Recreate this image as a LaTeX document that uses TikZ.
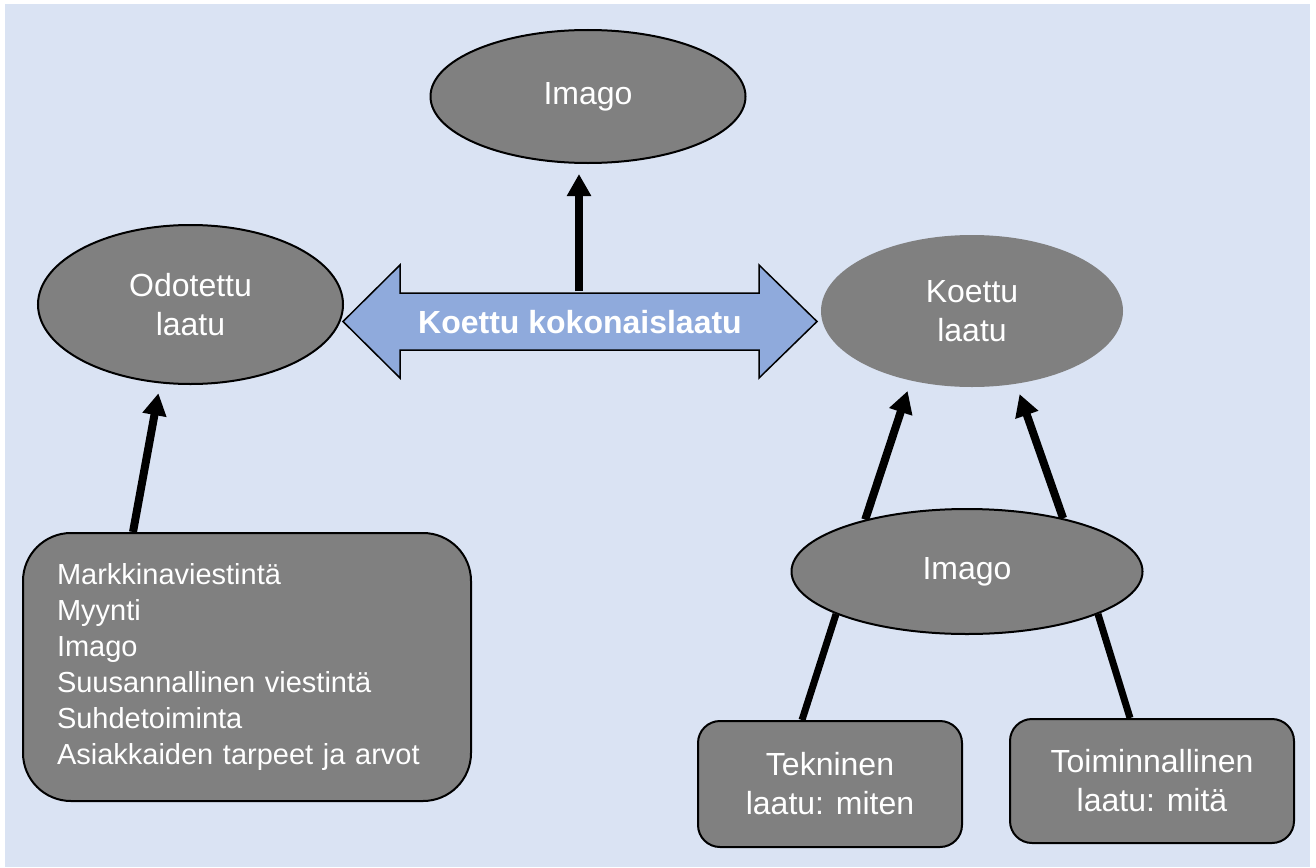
\documentclass[tikz,border=0pt]{standalone}
\usepackage{fontspec}
\setmainfont{Liberation Sans}
\usetikzlibrary{arrows.meta,shapes.geometric,backgrounds}
\definecolor{pagebg}{HTML}{DAE3F3}
\definecolor{shade}{HTML}{808080}
\definecolor{band}{HTML}{8FAADC}

\begin{document}
\begin{tikzpicture}[x=1pt,y=-1pt,
  oval/.style={ellipse,fill=shade,draw=black,line width=2pt,inner sep=0pt,
    text=white,align=center,font=\fontsize{32}{39}\selectfont},
  card/.style={rectangle,rounded corners=22pt,fill=shade,draw=black,line width=2pt,
    inner sep=0pt,text=white,align=center,font=\fontsize{32}{39}\selectfont},
  link/.style={line width=7pt},
  push/.style={line width=8pt,-{Triangle[width=23pt,length=22pt]},shorten >=10pt},
]
\useasboundingbox (0,0) rectangle (1316,867);
\begin{scope}[on background layer]
  \fill[pagebg] (5,4) rectangle (1310,867);
\end{scope}

% central double arrow
\draw[fill=band,line width=1.5pt,line join=miter]
  (343,321.5) -- (400,265) -- (400,293) -- (759,293) -- (759,265) -- (817,321.5)
  -- (759,378) -- (759,350) -- (400,350) -- (400,378) -- cycle;
\node[text=white,font=\bfseries\fontsize{32}{38}\selectfont,inner sep=0pt]
  (kokonais) at (580,322) {Koettu kokonaislaatu};
\coordinate (shafttop) at (579,291);

% ovals
\node[oval,minimum width=315pt,minimum height=133pt] (imagoTop) at (588,96.5) {Imago};
\node[oval,minimum width=305pt,minimum height=159pt] (odotettu) at (190.5,304.5) {Odotettu\\laatu};
\node[oval,draw=none,minimum width=302pt,minimum height=152pt] (koettu) at (972,311) {Koettu\\laatu};
\node[oval,minimum width=351pt,minimum height=125pt] (imagoLow) at (967,571.5) {Imago};

% boxes
\node[card,rounded corners=48pt,minimum width=448pt,minimum height=268pt,
  text width=380pt,align=left,font=\fontsize{29}{36}\selectfont] (list) at (247,667)
  {Markkinaviestintä\\Myynti\\Imago\\Suusannallinen viestintä\\Suhdetoiminta\\Asiakkaiden tarpeet ja arvot};
\node[card,minimum width=264pt,minimum height=126pt] (tek) at (830,784) {Tekninen\\laatu: miten};
\node[card,minimum width=284pt,minimum height=124pt] (toim) at (1152,781) {Toiminnallinen\\laatu: mitä};

% connectors
\begin{scope}[on background layer]
  \draw[push] (shafttop) -- ([xshift=-9pt]imagoTop.south);
  \draw[push] ([xshift=-114pt]list.north) -- (odotettu.249);
  \draw[push] (imagoLow.153) -- (koettu.229);
  \draw[push] (imagoLow.29) -- (koettu.-59);
  \draw[link] ([xshift=-28pt]tek.north) -- (imagoLow.198);
  \draw[link] ([xshift=-22pt]toim.north) -- (imagoLow.-18);
\end{scope}
\end{tikzpicture}
\end{document}
